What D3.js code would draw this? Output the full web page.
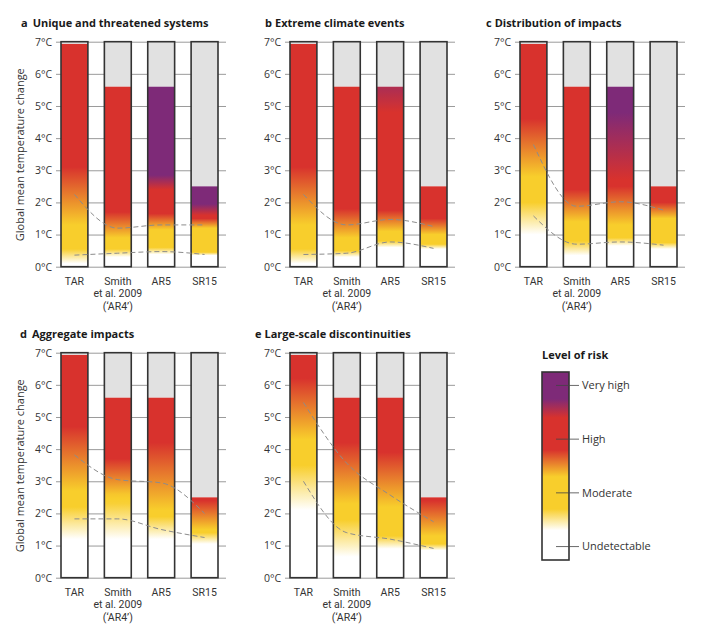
<!DOCTYPE html>
<html><head><meta charset="utf-8">
<script src="https://cdn.jsdelivr.net/npm/d3@7"></script>
<style>body{margin:0;background:#fff} text{font-family:"Open Sans",sans-serif}</style>
</head><body><svg id="chart" width="701" height="637"></svg>
<script>
// ---------- data ----------
const categories = ["TAR", "Smith et al. 2009 (‘AR4’)", "AR5", "SR15"];
const categoryLabelLines = [["TAR"], ["Smith", "et al. 2009", "(‘AR4’)"], ["AR5"], ["SR15"]];
const panelLetters = ["a", "b", "c", "d", "e"];
const panelTitles = ["Unique and threatened systems", "Extreme climate events", "Distribution of impacts", "Aggregate impacts", "Large-scale discontinuities"];
const temperatureTicks = [0, 1, 2, 3, 4, 5, 6, 7];
const barTops = [6.93, 5.6, 5.6, 2.5];
const riskLevels = ["Undetectable", "Moderate", "High", "Very high"];
const riskLevelValues = [0, 1, 2, 3];
// ember stops per bar: [temperature °C, risk level 0–3]
const embersA = [
  [[0,0],[0.1,0],[0.55,1],[1.3,1],[3.1,2],[6.93,2]],
  [[0,0],[0.3,0],[0.55,1],[0.9,1],[1.7,2],[5.6,2]],
  [[0,0],[0.38,0],[0.6,1],[1.15,1],[1.65,2],[2.4,2],[2.85,3],[5.6,3]],
  [[0,0],[0.35,0],[0.45,1],[1.2,1],[1.5,2],[1.6,2],[1.95,3],[2.5,3]]
];
const embersB = [
  [[0,0],[0.1,0],[0.55,1],[1.3,1],[3.1,2],[6.93,2]],
  [[0,0],[0.3,0],[0.5,1],[0.9,1],[1.8,2],[5.6,2]],
  [[0,0],[0.6,0],[0.8,1],[1.1,1],[1.75,2],[4.8,2],[5.5,2.45],[5.6,2.45]],
  [[0,0],[0.55,0],[0.7,1],[1.0,1],[1.5,2],[2.5,2]]
];
const embersC = [
  [[0,0],[1.0,0],[2.0,1],[2.8,1],[4.6,2],[6.93,2]],
  [[0,0],[0.35,0],[0.8,1],[1.4,1],[2.4,2],[5.6,2]],
  [[0,0],[0.65,0],[0.9,1],[1.3,1],[2.5,2],[2.7,2],[4.8,3],[5.6,3]],
  [[0,0],[0.55,0],[0.75,1],[1.5,1],[2.0,2],[2.5,2]]
];
const embersD = [
  [[0,0],[1.2,0],[2.2,1],[2.7,1],[4.7,2],[6.93,2]],
  [[0,0],[1.2,0],[2.3,0.95],[2.6,1.05],[3.7,2],[5.6,2]],
  [[0,0],[1.2,0],[1.9,1],[2.1,1],[4.2,2],[5.6,2]],
  [[0,0],[1.05,0],[1.4,1],[1.5,1],[2.4,2],[2.5,2]]
];
const embersE = [
  [[0,0],[2.1,0],[3.5,1],[4.3,1],[6.2,2],[6.93,2]],
  [[0,0],[0.65,0],[1.8,1],[2.3,1],[4.2,2],[5.6,2]],
  [[0,0],[0.9,0],[1.3,1],[2.2,1],[3.9,2],[5.6,2]],
  [[0,0],[0.85,0],[1.05,1],[1.3,1],[2.4,2],[2.5,2]]
];
const panelEmbers = [embersA, embersB, embersC, embersD, embersE];
// dashed transition lines (°C at each assessment)
const upperTransition = [[2.25,1.2,1.3,1.3],[2.25,1.3,1.47,1.25],[3.8,1.88,2.02,1.76],[3.82,3.05,2.95,2.0],[5.45,3.56,2.57,1.74]];
const lowerTransition = [[0.36,0.42,0.47,0.38],[0.38,0.42,0.77,0.57],[1.58,0.7,0.77,0.67],[1.83,1.83,1.5,1.25],[3.0,1.4,1.2,0.91]];
// legend gradient stops: [level position, colour level]
const legendStops = [[-0.25,0],[0.3,0],[0.7,1],[1.3,1],[1.8,2],[2.4,2],[2.75,3],[3.25,3]];

// ---------- layout ----------
const panelDX = [0, 229, 459, 0, 229];
const panelY0 = [266.7, 266.7, 266.7, 577.7, 577.7];
const panelLetterX = [21, 265, 486, 20, 255];
const panelTitleY = [27, 27, 27, 338, 338];
const showYTitle = [true, false, false, true, false];

const svg = d3.select("#chart");
const defs = svg.append("defs");
const levelColor = d3.scaleLinear().domain([0, 1, 2, 3])
  .range(["#ffffff", "#f8ce2c", "#d8322d", "#7e2a78"]).interpolate(d3.interpolateRgb);

function addGradient(id, stops, y0, y1, pos) {
  const grad = defs.append("linearGradient").attr("id", id).attr("gradientUnits", "userSpaceOnUse")
    .attr("x1", 0).attr("x2", 0).attr("y1", y0).attr("y2", y1);
  const pts = [];
  for (let k = 0; k < stops.length - 1; k++) {
    const [t0, l0] = stops[k], [t1, l1] = stops[k + 1];
    for (let s = 0; s < 8; s++) { const f = s / 8; pts.push([t0 + (t1 - t0) * f, l0 + (l1 - l0) * f]); }
  }
  pts.push(stops[stops.length - 1]);
  grad.selectAll("stop").data(pts).join("stop")
    .attr("offset", d => Math.max(0, Math.min(1, pos(d[0]))))
    .attr("stop-color", d => levelColor(d[1]));
}

panelLetters.forEach((letter, p) => {
  const g = svg.append("g").attr("transform", `translate(${panelDX[p]},0)`);
  const y0 = panelY0[p];
  const y = d3.scaleLinear().domain([0, 7]).range([y0, y0 - 225]);
  const x = d3.scaleBand().domain(categories).range([61, 218]).paddingInner(0.38).paddingOuter(0);

  // title
  const t = g.append("text").attr("x", panelLetterX[p] - panelDX[p]).attr("y", panelTitleY[p])
    .attr("font-size", 11).attr("font-weight", 700).attr("fill", "#1a1a1a");
  t.append("tspan").text(letter);
  t.append("tspan").attr("dx", p === 0 || p === 3 ? 5 : 3).text(panelTitles[p]);

  // grid / axis
  const axis = d3.axisLeft(y).tickValues(temperatureTicks).tickSize(-(226 - 56)).tickPadding(4)
    .tickFormat(d => d + "°C");
  const ag = g.append("g").attr("transform", "translate(56,0)").call(axis);
  ag.select(".domain").remove();
  ag.selectAll(".tick line").attr("stroke", "#9a9a9a").attr("stroke-width", 1);
  ag.selectAll(".tick text").attr("font-size", 10.5).attr("fill", "#333")
    .attr("font-family", "'Open Sans',sans-serif");

  if (showYTitle[p]) {
    g.append("text").attr("transform", `translate(24,${y(3.5) + 0.5}) rotate(-90)`)
      .attr("text-anchor", "middle").attr("font-size", 11).attr("fill", "#333")
      .text("Global mean temperature change");
  }

  // bars
  categories.forEach((c, i) => {
    const top = barTops[i];
    const id = `ember-${letter}-${i}`;
    addGradient(id, panelEmbers[p][i], y(0), y(top), v => v / top);
    const bx = x(c), bw = x.bandwidth();
    g.append("rect").attr("x", bx).attr("width", bw).attr("y", y(7)).attr("height", y(top) - y(7)).attr("fill", "#e1e1e1");
    g.append("rect").attr("x", bx).attr("width", bw).attr("y", y(top)).attr("height", y(0) - y(top)).attr("fill", `url(#${id})`);
    g.append("rect").attr("x", bx).attr("width", bw).attr("y", y(7)).attr("height", y(0) - y(7))
      .attr("fill", "none").attr("stroke", "#333").attr("stroke-width", 1.6);
    categoryLabelLines[i].forEach((line, k) => {
      g.append("text").attr("text-anchor", "middle").attr("font-size", 10.5).attr("fill", "#333")
        .style("font-family", "Roboto, sans-serif")
        .attr("x", bx + bw / 2).attr("y", y0 + 18 + k * 12.5).text(line);
    });
  });

  // dashed transition lines
  const line = d3.line().x((d, i) => x(categories[i]) + x.bandwidth() / 2).y(d => y(d)).curve(d3.curveMonotoneX);
  [upperTransition[p], lowerTransition[p]].forEach(vals => {
    g.append("path").attr("d", line(vals)).attr("fill", "none").attr("stroke", "#8c8c8c")
      .attr("stroke-width", 1).attr("stroke-dasharray", "5,3");
  });
});

// ---------- legend ----------
const ly = d3.scaleLinear().domain([-0.25, 3.25]).range([560, 372]);
const lg = svg.append("g");
lg.append("text").attr("x", 542).attr("y", 359).attr("font-size", 11).attr("font-weight", 700).attr("fill", "#1a1a1a").text("Level of risk");
addGradient("legend-grad", legendStops, ly(-0.25), ly(3.25), v => (v + 0.25) / 3.5);
lg.append("rect").attr("x", 542).attr("width", 27).attr("y", ly(3.25)).attr("height", ly(-0.25) - ly(3.25))
  .attr("fill", "url(#legend-grad)").attr("stroke", "#333").attr("stroke-width", 1.6);
riskLevels.forEach((name, i) => {
  const yy = ly(riskLevelValues[i]);
  lg.append("line").attr("x1", 556).attr("x2", 579).attr("y1", yy).attr("y2", yy).attr("stroke", "#444").attr("stroke-width", 0.8);
  lg.append("text").attr("x", 582).attr("y", yy).attr("dy", "0.35em").attr("font-size", 11).attr("fill", "#333").text(name);
});
</script></body></html>
